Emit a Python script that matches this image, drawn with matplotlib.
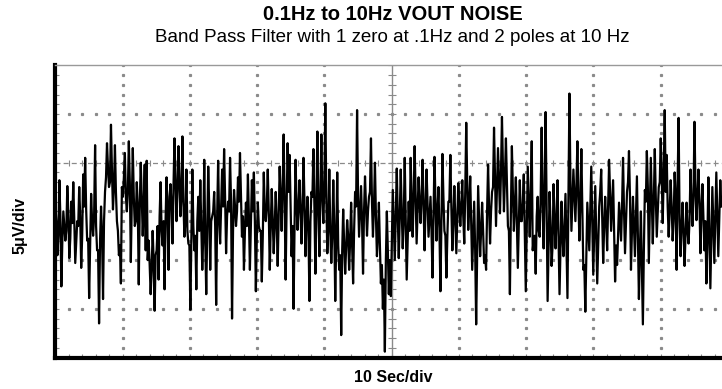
import numpy as np
import matplotlib
matplotlib.use("Agg")
import matplotlib.pyplot as plt

# ────────── Data (µV) ──────────
# peak readings, roughly every 2 px of screen (~0.3 s)
seg1 = [0.5, -4.5, 3.2, -7.7, 0.0, -3.0, 2.6, -4.8, 1.0, 3.0, -5.3, -1.0, 2.5, -5.8,
        3.8, 5.5, -3.0, -8.9, 1.8, -2.5, 6.8, -4.0, -11.5, 0.5, -9.0, 2.0, 7.0, 2.5,
        8.9, 0.2, 6.8, -1.0, -4.5, -7.4, 1.5, 6.0, 0.0, 7.2, -5.2, 6.5, -1.5, 3.0,
        -7.5, 5.0, -2.5, 4.8, 5.2, -3.0, -8.5, -2.0, -10.2, -4.0, -7.0, 3.0, -3.5]
seg2 = [-8.0, 3.5, -6.0, 2.8, -3.3, 7.5, -1.0, 6.7, -0.5, 7.7, -2.6, 4.3, -3.3, -10.1,
        4.3, -4.0, -8.0, 1.5, 3.2, -6.0, 5.3, -8.5, 4.6, -6.0, -0.5, 2.0, -9.6, 5.2,
        -3.3, 4.3, 6.4, -4.3, 1.0, 5.5, -11.0, 2.2, -1.5, 3.5, 6.0, -2.6, -6.0, 0.9,
        3.8, -6.0, 3.2, 4.0, -8.2, 0.9, -2.0, -7.2, 4.0, -1.0, 4.3, -6.0, 2.3, -4.3, 2.0]
seg3 = [-5.6, 4.6, -2.0, 7.9, -7.0, 7.0, 5.8, -4.6, -10.0, 5.3, -1.9, 3.2, -3.3, 5.5,
        -4.6, 1.5, -9.2, 2.0, 6.4, -6.4, 8.2, -4.6, 7.9, -1.2, 11.1, -4.3, 4.3, -5.3,
        3.2, -9.2, 4.0, -6.0, -12.7, 0.2, -6.4, -0.9, -6.0, 0.9, -7.4, 2.0, 10.4, -2.6,
        2.6, -6.4, 3.6, -2.5, 1.5, 7.5, -2.6, 5.0, -4.6, 0.9, -7.4, -10.0, -14.4, 0.0, -8.5]
seg4 = [-8.7, 2.2, -5.0, 4.4, -4.8, 4.3, -3.8, 5.5, -7.0, 1.0, 5.5, -2.6, 6.7, -3.3,
        3.5, -1.2, 5.3, -4.0, 4.3, -2.6, 1.5, -6.8, 5.6, -3.0, 2.5, -8.2, 5.9, -2.0,
        -6.8, 1.0, 5.8, -4.0, 2.6, -4.3, 2.9, -1.5, 3.2, -3.3, 9.1, -1.9, 3.6, -6.0,
        1.0, -11.6, 2.6, -4.6, 0.9, -5.3, -6.0, 4.8, -3.3, 2.0, 8.6, -1.5, 6.5, -0.2, 9.7]
seg5 = [0.0, 7.5, -1.5, -8.5, 6.7, -2.0, 3.5, -5.8, 3.2, -1.0, 3.8, -8.2, 4.6, -2.6,
        7.2, -2.8, -6.4, 1.5, -2.6, 8.6, -3.8, 10.2, -9.2, 2.0, -5.6, 2.8, -3.8, 3.2,
        -8.5, 1.0, -4.6, 1.8, -8.9, 12.1, -2.0, 4.3, -1.0, 7.2, -3.0, 6.4, -6.0, -10.3,
        0.9, -4.0, 4.6, -6.5, 2.6, -7.4, 0.5, 4.3, -5.3, 1.5, -4.0, 5.3, -2.0, 3.2, -7.2]
seg6 = [-5.5, 0.9, -3.0, 5.5, -4.3, 2.0, 6.2, -6.0, 1.5, -4.6, 3.6, -9.0, 0.0, -11.6,
        2.2, 6.2, -5.3, 5.5, -3.3, 6.4, -2.6, 2.5, 7.5, -1.2, 10.4, 5.8, -2.6, 3.2,
        -3.0, 4.0, -6.0, 9.6, -4.6, 0.9, -5.6, 0.9, -3.3, 4.3, -1.5, 9.2, -0.9, 4.3,
        -4.3, 2.8, -4.0, -7.4, 3.5, -7.9, 2.5, -5.3, 4.0, -4.6, 3.2]

# readings inside the dense core of the trace, between the peak readings
mid1 = [-1.0, -2.5, -0.5, -3.0, -1.5, -2.0, 0.0, -2.8, -1.2, -0.8, -3.2, -1.5, -0.5, -2.5,
        0.5, 0.2, -2.8, -3.5, -1.0, -0.5, -1.5, -4.0, -3.0, -2.5, -1.0, 3.5, 4.5, 3.0,
        4.2, 2.5, 2.0, -2.0, -3.5, 2.5, 3.5, 1.5, 2.0, 3.0, 1.0, 1.5, -1.0, 0.5,
        0.5, 1.5, 0.5, -4.0, -5.0, -5.5, -6.0, -5.0, -4.5, -1.5, -0.5, -2.0, -1.0]
mid2 = [-1.0, 0.0, 1.5, 0.5, 2.5, 3.0, 2.0, 3.5, 1.5, 1.0, -1.0, -2.0, -3.5, -2.5,
        -1.5, -2.5, -1.0, -2.0, -1.5, -2.5, -3.0, -2.0, 0.5, -1.0, 0.0, -1.5, -0.5, -1.0,
        0.5, 0.5, 1.5, -0.5, 0.0, 1.0, -2.0, 0.5, 0.0, 1.0, 1.5, -0.5, -2.0, -1.5,
        -0.5, -1.5, 0.0, -1.0, -2.5, -1.5, -2.0, -2.5, 0.0, 0.5, 0.0, -1.5, -1.0, -1.5, -1.0]
mid3 = [-0.5, 1.5, 2.5, 1.0, 0.5, 2.0, 0.5, -1.5, -1.5, 1.0, 0.5, 0.0, 0.5, 1.0,
        -1.0, -2.0, -1.0, 1.5, 0.5, 1.0, 0.0, 2.0, 1.5, 2.5, 1.5, -1.5, -2.0, -2.5,
        -1.5, -3.0, -3.5, -4.5, -4.0, -3.5, -3.5, -2.5, -3.0, -3.5, -2.0, 0.5, 1.5, 0.0,
        -1.0, 0.0, 0.5, 0.0, 2.0, 1.0, 0.5, -0.5, -2.5, -3.5, -5.5, -7.0, -5.0, -4.0, -5.0]
mid4 = [-3.5, -1.5, -0.5, -0.5, -0.5, 0.0, -1.0, -0.5, -3.0, -2.0, 1.0, 1.5, 1.5, 0.0,
        1.0, 1.5, 0.5, 0.5, 1.0, -0.5, -2.0, -0.5, 1.0, 0.0, -2.0, -1.0, 1.5, -2.5,
        -2.5, 1.0, 0.5, -1.0, -1.0, -0.5, 0.5, 0.5, -0.5, 2.0, 3.0, 0.5, -1.0, -2.5,
        -4.0, -4.5, -1.0, -2.0, -2.0, -4.5, 0.0, 0.5, 0.0, 2.5, 3.5, 2.5, 3.0, 4.0, 4.5]
mid5 = [3.5, 3.0, -2.0, 0.0, 2.0, 0.5, -1.0, -1.5, -1.0, 1.0, -2.0, -2.0, 1.0, 1.5,
        -4.0, -2.5, -0.5, -2.0, 1.5, 1.0, 2.5, 0.0, -3.5, -1.5, -3.5, -1.0, -0.5, -2.5,
        -3.5, -2.5, -1.5, -3.5, 1.5, 3.0, 1.0, 1.5, 2.5, 1.5, 1.0, 0.0, -5.5, -4.5,
        -1.5, 0.5, -1.0, -2.0, -2.5, -3.5, 2.0, -0.5, -1.5, -1.0, 0.5, 1.5, 0.5, -2.0, -3.5]
mid6 = [-2.5, -1.0, 0.5, 0.0, -1.0, 3.0, 1.5, -2.0, -1.5, -0.5, -3.0, -4.0, -5.5, -4.0,
        1.0, 2.5, 0.0, 1.0, 1.0, 1.5, 0.0, 3.0, 3.5, 4.0, 2.0, 0.5, 0.0, 0.5,
        -1.0, 1.5, 3.0, -1.0, -1.5, -2.0, -2.5, -2.0, -1.0, 1.0, 1.5, 2.5, 1.5, 1.0,
        0.0, -0.5, -1.0, -3.0, -2.0, -2.5, -1.5, -0.5, -0.5, -0.5, 0.5]

peaks = seg1 + seg2 + seg3 + seg4 + seg5 + seg6
cores = mid1 + mid2 + mid3 + mid4 + mid5 + mid6
vout = np.column_stack([peaks, cores]).ravel()
t_end = 99.0                      # seconds on screen (cut just before 100 s)
t = np.linspace(0, t_end, len(vout))

TITLE    = "0.1Hz to 10Hz VOUT NOISE"
SUBTITLE = "Band Pass Filter with 1 zero at .1Hz and 2 poles at 10 Hz"
XLABEL   = "10 Sec/div"
YLABEL   = "5\u03bcV/div"

# ────────── Figure ──────────
plt.rcParams["font.family"] = ["Liberation Sans", "DejaVu Sans"]
fig = plt.figure(figsize=(7.22, 3.89), dpi=100)
ax = fig.add_axes([55.4 / 722, 31.5 / 389, 672.6 / 722, 292.2 / 389])
ax.set_xlim(0, 100)
ax.set_ylim(-15, 15)

grid_c = "#8a8a8a"
# scope graticule: dotted divisions
for gx in range(10, 100, 10):
    if gx == 50:
        continue
    gy = np.arange(-15, 15.01, 1)
    ax.plot(np.full_like(gy, gx), gy, ls="none", marker="s", ms=1.3, color=grid_c, zorder=1)
for gy in (-10, -5, 0, 10):
    gx = np.arange(0, 100.01, 2)
    ax.plot(gx, np.full_like(gx, gy), ls="none", marker="s", ms=1.3, color=grid_c, zorder=1)
# centre axes with minor marks
ax.axhline(5, color=grid_c, lw=0.9, ls=(0, (4, 2.5)), zorder=1)
hx = np.arange(0, 100.01, 2)
ax.plot(hx, np.full_like(hx, 5), ls="none", marker="|", ms=4, mew=0.8, color=grid_c, zorder=1)
ax.axvline(50, color=grid_c, lw=1.0, zorder=1)
vy = np.arange(-15, 15.01, 1)
ax.plot(np.full_like(vy, 50), vy, ls="none", marker="_", ms=6, mew=0.8, color=grid_c, zorder=1)

# trace
ax.plot(t, vout, color="black", lw=1.6, zorder=3)

# frame
ax.set_xticks(np.arange(0, 101, 2))
ax.set_yticks(np.arange(-15, 16, 1))
ax.tick_params(direction="in", length=3, width=0.8, colors=grid_c,
               labelleft=False, labelbottom=False)
ax.spines["left"].set_linewidth(3)
ax.spines["bottom"].set_linewidth(3)
ax.spines["top"].set_linewidth(1)
ax.spines["top"].set_color("#999999")
ax.spines["right"].set_visible(False)

fig.text(393 / 722, 1 - 15 / 389, TITLE, ha="center", va="center",
         fontsize=14.5, fontweight="bold")
fig.text(392 / 722, 1 - 38 / 389, SUBTITLE, ha="center", va="center", fontsize=13.5)
fig.text(393 / 722, 1 - 378 / 389, XLABEL, ha="center", va="center",
         fontsize=11.5, fontweight="bold")
fig.text(20 / 722, 1 - 225 / 389, YLABEL, ha="center", va="center",
         fontsize=11.5, fontweight="bold", rotation=90)

fig.savefig("out.png", dpi=100)
